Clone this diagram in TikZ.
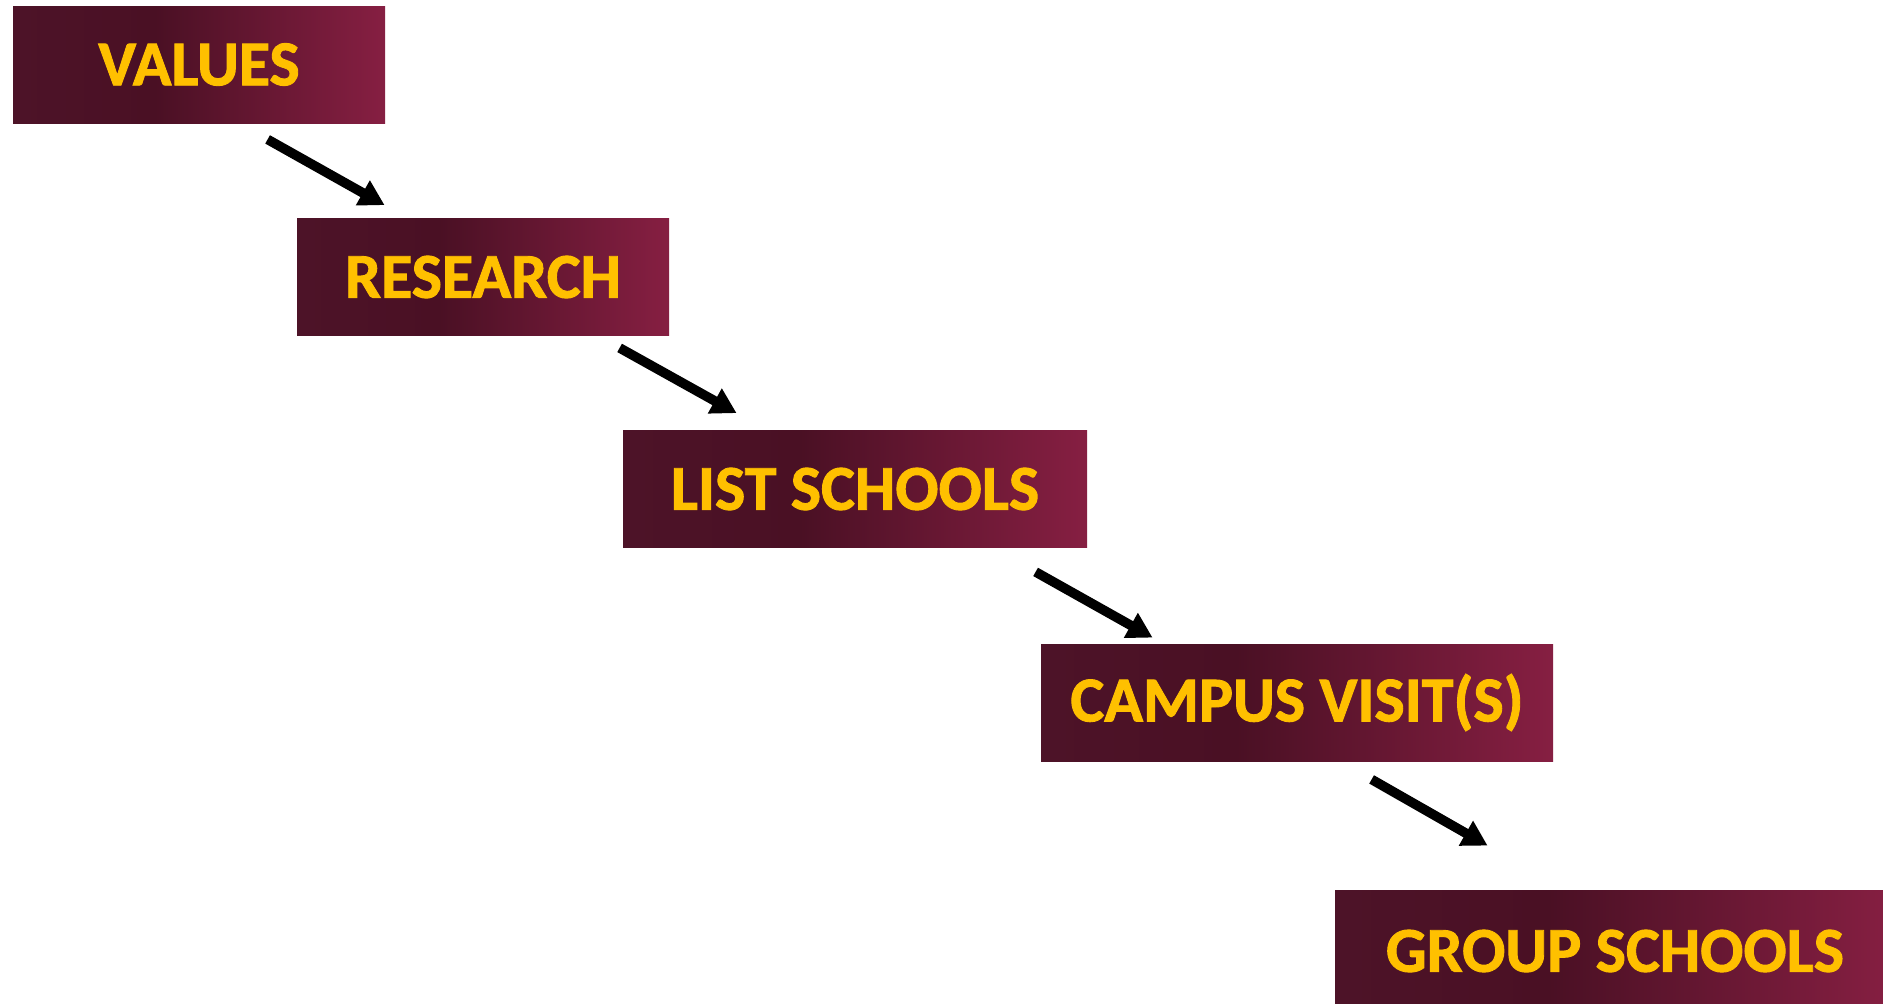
\documentclass[tikz,border=0pt]{standalone}
\usepackage{fontspec}
\setmainfont{Carlito}[BoldFont={Carlito Bold},BoldFeatures={FakeBold=1.4}]
\usetikzlibrary{arrows.meta}
\definecolor{maroonedge}{HTML}{4D1328}
\definecolor{maroondark}{HTML}{4A1024}
\definecolor{maroonlight}{HTML}{861F42}
\definecolor{stepgold}{HTML}{FFC000}
\pgfdeclarehorizontalshading{stepshade}{100bp}{color(0bp)=(maroonedge); color(25bp)=(maroonedge); color(44bp)=(maroondark); color(75bp)=(maroonlight); color(100bp)=(maroonlight)}

\begin{document}
\begin{tikzpicture}[x=0.5pt,y=-0.5pt,
   stepbox/.style={rectangle,inner sep=0pt,shading=stepshade,text=stepgold,
     font=\fontsize{32}{38}\selectfont\bfseries,minimum height=58.5pt},
   arrow/.style={line width=4.8pt,-{Triangle[length=12.5pt,width=13.5pt]}}]
\useasboundingbox (0,0) rectangle (1883,1003);
\node[stepbox,minimum width=186pt] (values) at (199,64.5) {VALUES};
\node[stepbox,minimum width=186pt] (research) at (483,277) {RESEARCH};
\node[stepbox,minimum width=232pt] (list) at (855,489) {LIST SCHOOLS};
\node[stepbox,minimum width=256pt] (campus) at (1297,702.5) {CAMPUS VISIT(S)};
\node[stepbox,minimum width=280pt,minimum height=61pt] (group) at (1615,951) {GROUP SCHOOLS};

\draw[arrow] ([shift={(255,16)}]values.south west) -- ([shift={(88,-13)}]research.north west);
\draw[arrow] ([shift={(323,12)}]research.south west) -- ([shift={(114,-17)}]list.north west);
\draw[arrow] ([shift={(413,24)}]list.south west) -- ([shift={(112,-6)}]campus.north west);
\draw[arrow] ([shift={(331,18)}]campus.south west) -- ([shift={(153,-44)}]group.north west);
\end{tikzpicture}
\end{document}
